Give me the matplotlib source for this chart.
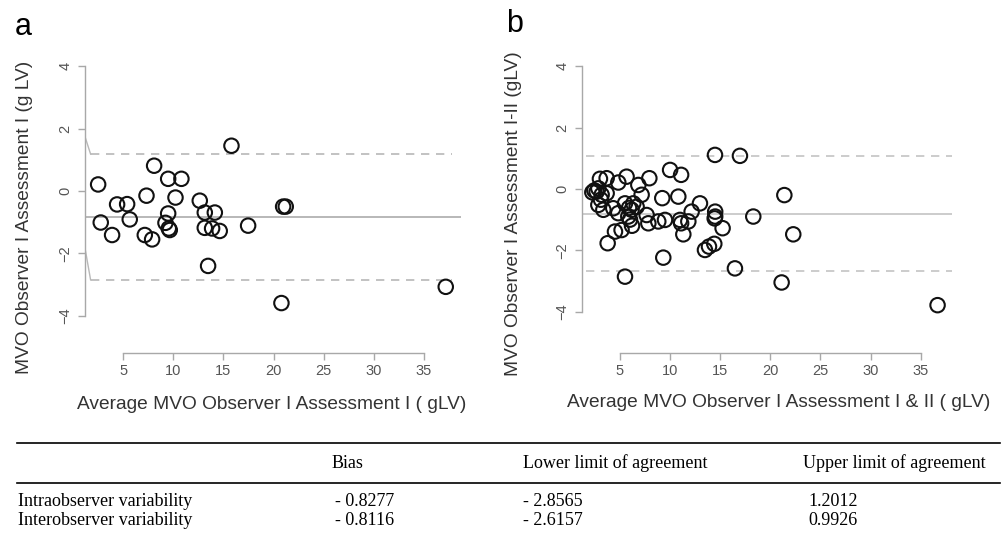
import matplotlib.pyplot as plt
from matplotlib.lines import Line2D

plt.rcParams['font.family'] = ['Liberation Sans', 'DejaVu Sans']

# panel a: intraobserver (Observer I, assessment I vs II)
a_x = [2.51, 2.77, 3.90, 4.40, 5.40, 5.66, 7.33, 7.16, 7.89, 8.09,
       9.49, 10.81, 10.22, 9.49, 9.22, 9.55, 9.65, 12.64, 13.14, 14.14,
       13.14, 13.87, 14.63, 13.47, 15.80, 17.46, 20.95, 21.21, 20.78, 37.16]
a_y = [0.21, -1.01, -1.41, -0.43, -0.42, -0.91, -0.15, -1.41, -1.55, 0.81,
       0.39, 0.39, -0.21, -0.72, -1.02, -1.20, -1.25, -0.31, -0.69, -0.69,
       -1.18, -1.20, -1.28, -2.40, 1.45, -1.11, -0.50, -0.50, -3.59, -3.07]
a_bias, a_lower, a_upper = -0.82, -2.85, 1.18

# panel b: interobserver (Observer I vs II)
b_x = [2.24, 2.44, 2.67, 2.84, 3.00, 3.17, 3.67, 3.67, 2.84, 3.34,
       4.33, 4.83, 5.66, 6.83, 7.93, 10.00, 11.10, 7.16, 9.22, 10.82,
       5.50, 6.33, 6.66, 6.16, 4.83, 5.83, 7.66, 7.83, 8.82, 9.49,
       10.99, 11.82, 12.15, 12.98, 4.50, 5.16, 3.77, 5.50, 9.32, 14.48,
       16.97, 21.40, 18.30, 22.29, 16.47, 21.13, 15.24, 14.50, 14.50, 14.45,
       13.48, 13.88, 14.41, 11.32, 11.10, 36.69, 6.20, 6.00, 3.10, 5.90]
b_y = [-0.11, -0.05, -0.09, 0.02, 0.33, -0.19, 0.35, -0.14, -0.52, -0.68,
       -0.63, 0.21, 0.40, 0.13, 0.35, 0.62, 0.46, -0.19, -0.30, -0.25,
       -0.47, -0.47, -0.58, -0.68, -0.79, -0.90, -0.85, -1.12, -1.06, -1.01,
       -1.01, -1.06, -0.74, -0.47, -1.39, -1.34, -1.77, -2.86, -2.24, 1.11,
       1.08, -0.20, -0.90, -1.48, -2.59, -3.05, -1.28, -0.74, -0.90, -0.96,
       -1.99, -1.88, -1.79, -1.48, -1.12, -3.79, -1.20, -1.00, -0.35, -0.62]
b_bias, b_lower, b_upper = -0.815, -2.67, 1.07

# summary table
row_names = ["Intraobserver variability", "Interobserver variability"]
col_names = ["Bias", "Lower limit of agreement", "Upper limit of agreement"]
bias_vals = ["- 0.8277", "- 0.8116"]
lower_vals = ["- 2.8565", "- 2.6157"]
upper_vals = ["1.2012", "0.9926"]

W, H = 1003, 543
fig = plt.figure(figsize=(W / 100, H / 100), dpi=100)


def px_axes(left, right, top, bottom):
    return fig.add_axes([left / W, 1 - bottom / H, (right - left) / W, (bottom - top) / H])


def style(ax):
    for s in ['top', 'right']:
        ax.spines[s].set_visible(False)
    for s in ['left', 'bottom']:
        ax.spines[s].set_color('#a8a8a8')
        ax.spines[s].set_linewidth(1.0)
    ax.spines['left'].set_bounds(-4, 4)
    ax.spines['bottom'].set_bounds(5, 35)
    ax.set_xticks([5, 10, 15, 20, 25, 30, 35])
    ax.set_yticks([-4, -2, 0, 2, 4])
    ax.tick_params(colors='#a8a8a8', labelcolor='#555555', labelsize=10.5, length=5, width=1.0)
    ax.tick_params(axis='y', pad=4)
    ax.tick_params(axis='x', pad=3)
    for lab in ax.get_yticklabels():
        lab.set_rotation(90)
        lab.set_va('center')
    ax.patch.set_alpha(0)


lab_kw = dict(fontsize=13.8, color='#333333')

# panel a
ax1 = px_axes(85, 461, 29, 353)
ax1.set_xlim(1.2, 38.68)
ax1.set_ylim(-5.19, 5.19)
style(ax1)
ax1.axhline(a_bias, color='#b8b8b8', lw=1.4, zorder=1)
ax1.hlines([a_upper, a_lower], 1.76, 37.8, colors='#b8b8b8', lw=1.2,
           linestyles=(0, (5, 4)), zorder=1)
ax1.add_line(Line2D([1.2, 1.76], [1.74, a_upper], color='#b8b8b8', lw=1.0))
ax1.add_line(Line2D([1.2, 1.76], [-1.83, a_lower], color='#b8b8b8', lw=1.0))
ax1.scatter(a_x, a_y, s=108, facecolors='none', edgecolors='#111111', linewidths=1.5, zorder=3)
ax1.set_xlabel("Average MVO Observer I Assessment I ( gLV)", **lab_kw)
ax1.xaxis.set_label_coords(0.497, -0.160)
ax1.xaxis.label.set_va('center')
ax1.set_ylabel("MVO Observer I Assessment I (g LV)", **lab_kw)
ax1.yaxis.set_label_coords(-0.16, 0.42)
ax1.yaxis.label.set_va('center')

# panel b
ax2 = px_axes(581.7, 951.7, 24.6, 353.3)
ax2.set_xlim(1.18, 38.1)
ax2.set_ylim(-5.36, 5.36)
style(ax2)
ax2.axhline(b_bias, color='#cccccc', lw=1.4, zorder=1)
ax2.hlines([b_upper, b_lower], 1.6, 38.1, colors='#c4c4c4', lw=1.2,
           linestyles=(0, (5, 4)), zorder=1)
ax2.scatter(b_x, b_y, s=108, facecolors='none', edgecolors='#111111', linewidths=1.5, zorder=3)
ax2.set_xlabel("Average MVO Observer I Assessment I & II ( gLV)", **lab_kw)
ax2.xaxis.set_label_coords(0.533, -0.151)
ax2.xaxis.label.set_va('center')
ax2.set_ylabel("MVO Observer I Assessment I-II (gLV)", **lab_kw)
ax2.yaxis.set_label_coords(-0.185, 0.425)
ax2.yaxis.label.set_va('center')

# panel letters
fig.text(15 / W, 1 - 27 / H, "a", fontsize=22, va='center', ha='left')
fig.text(506 / W, 1 - 24 / H, "b", fontsize=22, va='center', ha='left')

# table
serif = ['Liberation Serif', 'DejaVu Serif']
for y in (442.7, 483.3):
    fig.add_artist(Line2D([17 / W, 1000 / W], [1 - y / H, 1 - y / H], color='black', lw=1.2))
head_x = [332, 523, 803]
val_x = [335, 523, 808]
for cx, name in zip(head_x, col_names):
    fig.text(cx / W, 1 - 463 / H, name, family=serif, fontsize=13, va='center', ha='left')
for ry, rname, b, lo, up in zip([502, 520.5], row_names, bias_vals, lower_vals, upper_vals):
    fig.text(18 / W, 1 - ry / H, rname, family=serif, fontsize=13, va='center', ha='left')
    for cx, v in zip(val_x, [b, lo, up]):
        fig.text(cx / W, 1 - ry / H, v, family=serif, fontsize=13, va='center', ha='left')

fig.savefig("out.png", dpi=100)
